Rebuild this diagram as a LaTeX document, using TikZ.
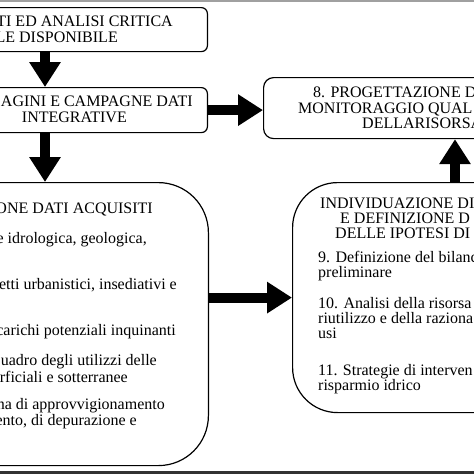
\documentclass[tikz,border=0pt]{standalone}
\usepackage{fontspec}
\setmainfont{Liberation Serif}
\usepackage{tikz}
\usetikzlibrary{arrows.meta}
\definecolor{bandtop}{RGB}{160,160,160}
\definecolor{bandbot}{RGB}{50,50,50}

\begin{document}
\begin{tikzpicture}[x=1pt, y=-1pt,
    box/.style={draw, line width=1.2pt, inner sep=0pt},
    txt/.style={inner sep=0pt, font=\fontsize{16}{18}\selectfont},
    blockarrow/.style={line width=10pt, -{Triangle[length=25pt,width=30pt]}}]
        \useasboundingbox (0,0) rectangle (474,474);
        \clip (0,0) rectangle (474,474);
        \fill[white] (0,0) rectangle (474,474);
        \fill[bandtop] (0,0) rectangle (474,2);
        \fill[bandbot] (0,471) rectangle (474,474);
        %% boxes
        \node[box, rounded corners=6pt, anchor=north east, minimum width=408pt, minimum height=44pt] (raccolta) at (208,7) {};
        \node[box, rounded corners=6pt, anchor=north east, minimum width=408pt, minimum height=45pt] (indagini) at (208,87) {};
        \node[box, rounded corners=50pt, anchor=north east, minimum width=409pt, minimum height=283pt] (elaborazione) at (209,182) {};
        \node[box, rounded corners=45pt, anchor=north west, minimum width=300pt, minimum height=230pt] (ipotesi) at (292,182) {};
        \node[box, rounded corners=10pt, anchor=north west, minimum width=300pt, minimum height=61pt] (progetto) at (263,77) {};
        %% arrows
        \coordinate (colsx) at (45,0);
        \coordinate (coldx) at (455,0);
        \draw[blockarrow] (raccolta.south -| colsx) -- (indagini.north -| colsx);
        \draw[blockarrow] (indagini.south -| colsx) -- (elaborazione.north -| colsx);
        \draw[blockarrow] (indagini.east) -- (indagini.east -| progetto.west);
        \draw[blockarrow] (elaborazione.east |- ipotesi.west) -- (ipotesi.west);
        \draw[blockarrow] (ipotesi.north -| coldx) -- (progetto.south -| coldx);
        %% text, left column
        \node[txt, anchor=base east] (r1) at (173,26) {TI ED ANALISI CRITICA};
        \node[txt, anchor=base east] (r2) at (118,42) {LE DISPONIBILE};
        \node[txt, anchor=base east] (i1) at (193,106) {AGINI E CAMPAGNE DATI};
        \node[txt, anchor=base east] (i2) at (127,122) {INTEGRATIVE};
        \node[txt, anchor=base east] (e1) at (153,213) {ONE DATI ACQUISITI};
        \node[txt, anchor=base east] (e2) at (147,243) {e idrologica, geologica,};
        \node[txt, anchor=base east] (e3) at (177,289) {etti urbanistici, insediativi e};
        \node[txt, anchor=base east] (e4) at (176,335) {carichi potenziali inquinanti};
        \node[txt, anchor=base east] (e5) at (157,365) {uadro degli utilizzi delle};
        \node[txt, anchor=base east] (e6) at (128,382) {rficiali e sotterranee};
        \node[txt, anchor=base east] (e7) at (165,409) {na di approvvigionamento};
        \node[txt, anchor=base east] (e8) at (137,425) {ento, di depurazione e};
        %% text, right column
        \node[txt, anchor=base west] (p1) at (313,97) {8. PROGETTAZIONE D};
        \node[txt, anchor=base west] (p2) at (298,113) {MONITORAGGIO QUAL};
        \node[txt, anchor=base west] (p3) at (362,128) {DELLARISORSA};
        \node[txt, anchor=base west] (h1) at (320,208) {INDIVIDUAZIONE DI};
        \node[txt, anchor=base west] (h2) at (340,223) {E DEFINIZIONE D};
        \node[txt, anchor=base west] (h3) at (335,238) {DELLE IPOTESI DI};
        \node[txt, anchor=base west] (h4) at (318,262) {9. Definizione del bilanc};
        \node[txt, anchor=base west] (h5) at (318,277) {preliminare};
        \node[txt, anchor=base west] (h6) at (318,308) {10. Analisi della risorsa};
        \node[txt, anchor=base west] (h7) at (318,323) {riutilizzo e della raziona};
        \node[txt, anchor=base west] (h8) at (318,338) {usi};
        \node[txt, anchor=base west] (h9) at (318,375) {11. Strategie di interven};
        \node[txt, anchor=base west] (h10) at (318,390) {risparmio idrico};
      \end{tikzpicture}
\end{document}
